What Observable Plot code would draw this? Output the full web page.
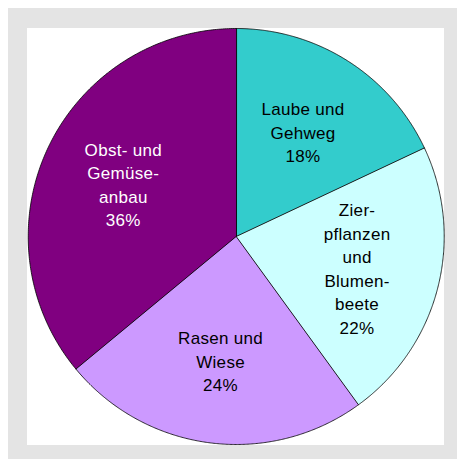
<!DOCTYPE html>
<html>
<head>
<meta charset="utf-8">
<script src="https://cdn.jsdelivr.net/npm/d3@7"></script>
<script src="https://cdn.jsdelivr.net/npm/@observablehq/plot@0.6"></script>
<style>
  html, body { margin: 0; padding: 0; background: #ffffff; }
  #frame { position: absolute; left: 8px; top: 8px; width: 449px; height: 451px; background: #e4e4e4; }
  #panel { position: absolute; left: 27px; top: 28px; width: 417px; height: 417px; background: #ffffff; }
  #chart { position: absolute; left: 0; top: 0; }
  #chart text { letter-spacing: 0.3px; }
</style>
</head>
<body>
<div id="frame"></div>
<div id="panel"></div>
<div id="chart"></div>
<script>
// Data
const categories = [
  "Laube und\nGehweg",
  "Zier-\npflanzen\nund\nBlumen-\nbeete",
  "Rasen und\nWiese",
  "Obst- und\nGemüse-\nanbau"
];
const values = [18, 22, 24, 36];
const sliceColors = ["#33cccc", "#ccffff", "#cc99ff", "#800080"];
const labelColors = ["#000000", "#000000", "#000000", "#ffffff"];

// Build slices via d3.pie (clockwise from 12 o'clock)
const arcs = d3.pie().sort(null).value(d => d)(values);
const slicePoints = [];
arcs.forEach((a, i) => {
  slicePoints.push({cat: categories[i], color: sliceColors[i], x: 0, y: 0});
  const n = 240;
  for (let k = 0; k <= n; k++) {
    const t = a.startAngle + (a.endAngle - a.startAngle) * k / n;
    slicePoints.push({cat: categories[i], color: sliceColors[i], x: Math.sin(t), y: -Math.cos(t)});
  }
});
const labelR = 0.6;
const labels = arcs.map((a, i) => {
  const m = (a.startAngle + a.endAngle) / 2;
  return {
    text: categories[i] + "\n" + values[i] + "%",
    color: labelColors[i],
    x: labelR * Math.sin(m),
    y: -labelR * Math.cos(m)
  };
});

const chart = Plot.plot({
  width: 457,
  height: 459,
  margin: 0,
  style: {background: "transparent", overflow: "visible"},
  x: {domain: [-1, 1], range: [27.7, 443.7], axis: null},
  y: {domain: [-1, 1], range: [28, 444], axis: null},
  color: {type: "identity"},
  marks: [
    Plot.line(slicePoints, {
      x: "x", y: "y", z: "cat",
      fill: "color",
      stroke: "#000000",
      strokeWidth: 0.8,
      curve: "linear-closed"
    }),
    Plot.text(labels, {
      x: "x", y: "y", text: "text",
      fill: "color",
      fontSize: 17,
      lineHeight: 1.38,
      fontFamily: "'Liberation Sans', Arial, Helvetica, sans-serif"
    })
  ]
});
document.getElementById("chart").appendChild(chart);
</script>
</body>
</html>
